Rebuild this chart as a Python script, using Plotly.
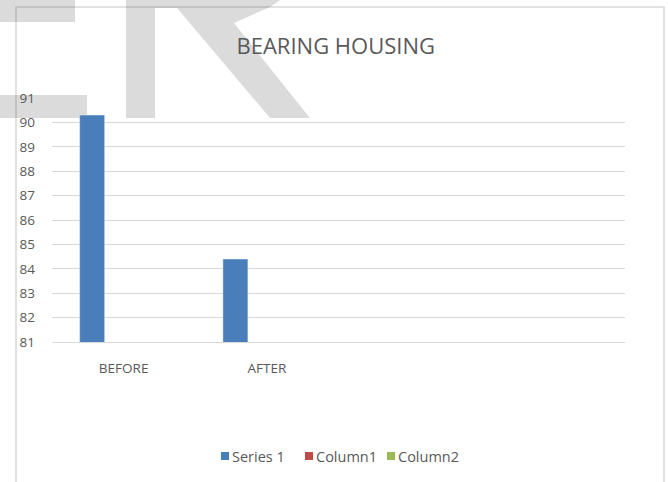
import plotly.graph_objects as go

categories = ["BEFORE", "AFTER", " ", "  "]
series_names = ["Series 1", "Column1", "Column2"]
series_colors = ["#4a7ebb", "#be4b48", "#98b954"]
series1 = [90.3, 84.4, None, None]
column1 = [None, None, None, None]
column2 = [None, None, None, None]
y_ticks = [81, 82, 83, 84, 85, 86, 87, 88, 89, 90, 91]

W, H = 668, 482
ml, mr, mt, mb = 52, 43, 98, 140
pw, ph = W - ml - mr, H - mt - mb


def px(x):
    return (x - ml) / pw


def py(y):
    return 1 - (y - mt) / ph


font_fam = "Open Sans, Liberation Sans, sans-serif"
txt_col = "#595959"

fig = go.Figure()
for name, vals, col in zip(series_names, [series1, column1, column2], series_colors):
    fig.add_trace(go.Bar(name=name, x=categories, y=vals, marker_color=col, showlegend=False))

fig.update_layout(
    width=W, height=H,
    margin=dict(l=ml, r=mr, t=mt, b=mb),
    paper_bgcolor="white", plot_bgcolor="white",
    barmode="group", bargap=0.341, bargroupgap=0.206,
    title=dict(text="BEARING HOUSING", x=px(340), xanchor="center", y=1 - 46 / H, yanchor="middle",
               font=dict(family=font_fam, size=22, color=txt_col)),
    font=dict(family=font_fam, size=13, color=txt_col),
    showlegend=False,
    xaxis=dict(type="category", categoryorder="array", categoryarray=categories,
               showgrid=False, showline=True, linecolor="#d9d9d9", linewidth=1, ticks="",
               tickfont=dict(size=13.5, color=txt_col), ticklabelstandoff=14),
    yaxis=dict(range=[81, 91], tickvals=y_ticks, showgrid=True, gridcolor="#d9d9d9", gridwidth=1,
               zeroline=False, showline=False, ticks="", tickfont=dict(size=13.5, color=txt_col),
               ticklabelstandoff=16),
)

# chart-area border
fig.add_shape(type="rect", xref="paper", yref="paper",
              x0=px(16), x1=px(664), y0=py(H + 5), y1=py(7),
              line=dict(color="#d9d9d9", width=1.5), layer="below")

# background watermark pieces (decorative, behind the chart)
wm = "rgba(0,0,0,0.14)"
fig.add_shape(type="rect", xref="paper", yref="paper", x0=px(-2), x1=px(75), y0=py(22), y1=py(-2),
              fillcolor=wm, line=dict(width=0), layer="below")
fig.add_shape(type="rect", xref="paper", yref="paper", x0=px(-2), x1=px(87), y0=py(118), y1=py(95),
              fillcolor=wm, line=dict(width=0), layer="below")
r_pts = [(126, -2), (126, 118), (155, 118), (155, 8), (177, 8), (270, 118), (310, 118),
         (234, 23), (252, 15), (270, 7), (283, -2)]
path = "M " + " L ".join(f"{px(x):.5f},{py(y):.5f}" for x, y in r_pts) + " Z"
fig.add_shape(type="path", xref="paper", yref="paper", path=path,
              fillcolor=wm, line=dict(width=0), layer="below")

# legend (drawn manually to match the compact layout)
leg_y = 456
leg_sq_x = [221, 305, 387]
for name, col, x0 in zip(series_names, series_colors, leg_sq_x):
    fig.add_shape(type="rect", xref="paper", yref="paper",
                  x0=px(x0), x1=px(x0 + 8), y0=py(leg_y + 4), y1=py(leg_y - 4),
                  fillcolor=col, line=dict(width=0))
    fig.add_annotation(text=name, xref="paper", yref="paper", x=px(x0 + 9), y=py(leg_y),
                       xanchor="left", yanchor="middle", showarrow=False,
                       font=dict(family=font_fam, size=14.5, color=txt_col))

fig.write_html("out.html")
